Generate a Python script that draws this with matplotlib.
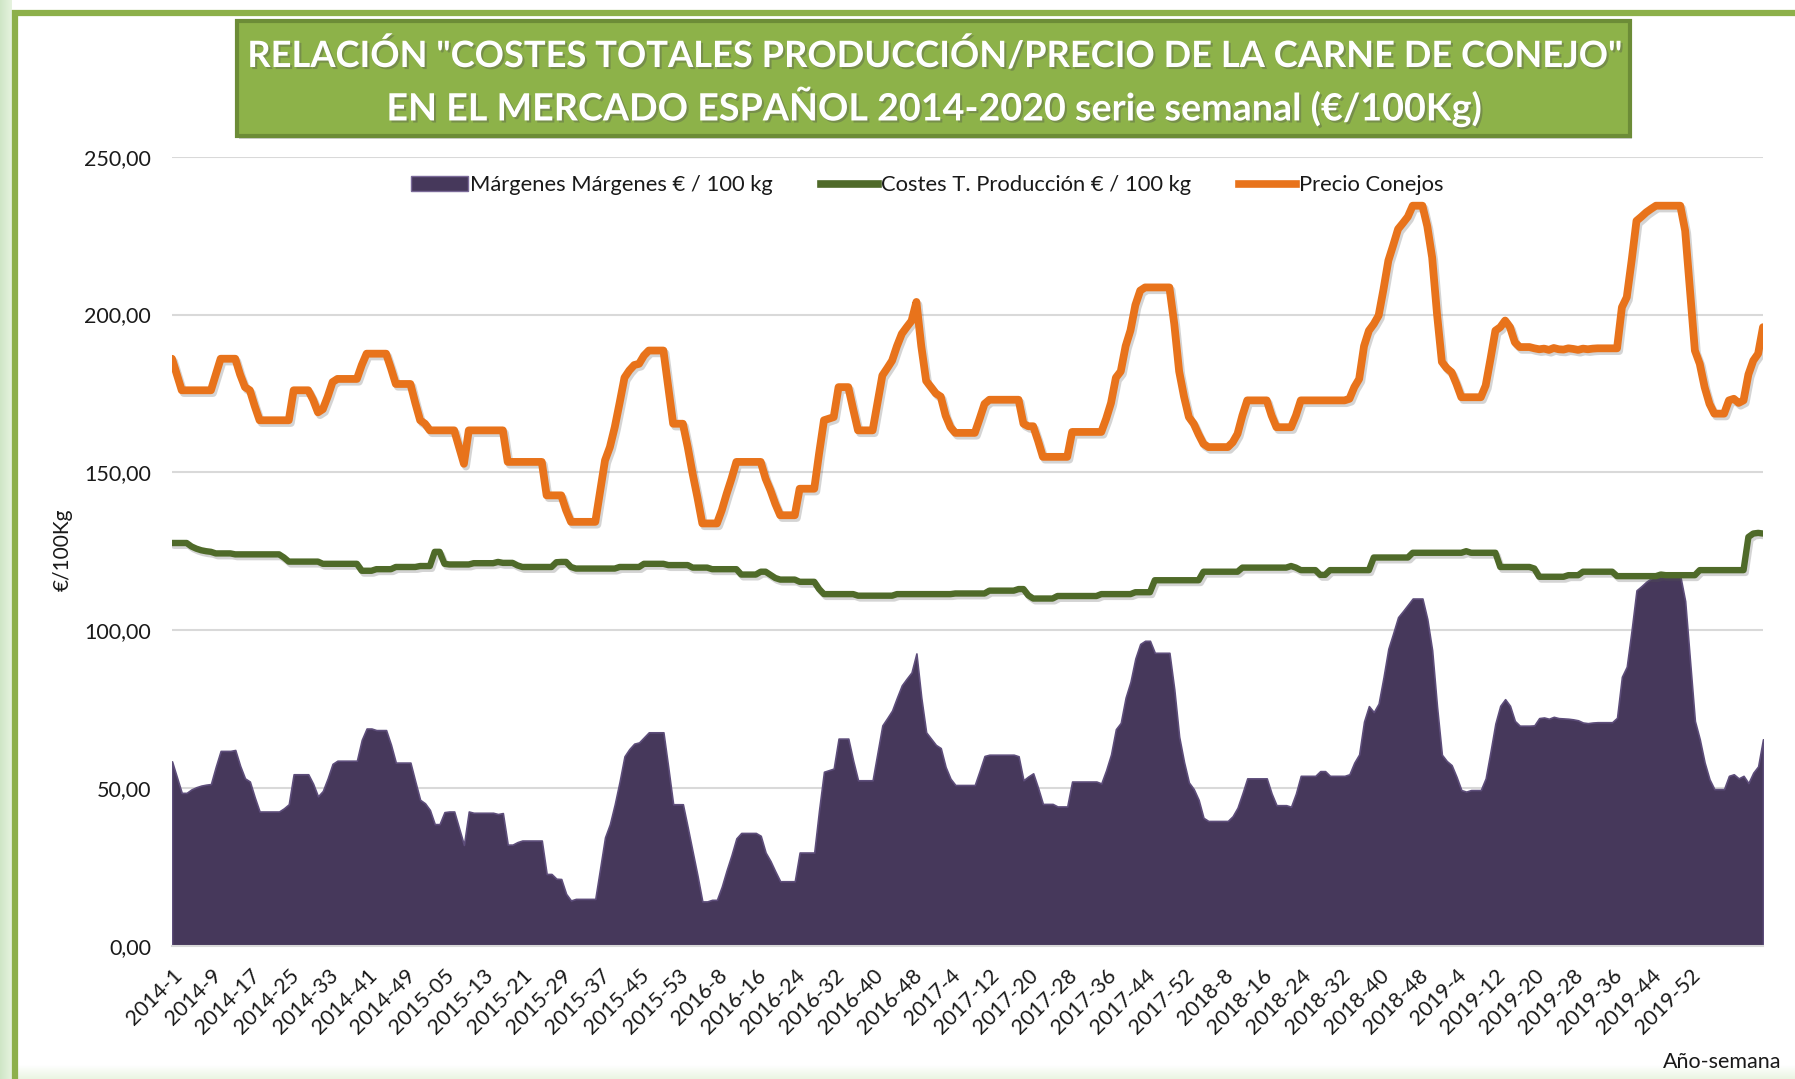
import matplotlib
matplotlib.use('Agg')
import matplotlib.pyplot as plt
import numpy as np
from matplotlib.patches import Rectangle, Patch
from matplotlib.lines import Line2D
import matplotlib.patheffects as pe

plt.rcParams['font.family'] = ['Lato', 'DejaVu Sans']

# ---------------- data (weekly, 2014-1 .. 2020-15) ----------------
price_2014 = [186, 181, 176, 176, 176, 176, 176, 176, 176, 181, 186, 186, 186, 186,
              181, 177, 176, 171, 166.5, 166.5, 166.5, 166.5, 166.5, 166.5, 166.5,
              176, 176, 176, 176, 173, 169, 170, 174, 178.6, 179.6, 179.6, 179.6,
              179.6, 179.6, 184, 187.6, 187.6, 187.6, 187.6, 187.6, 183, 178, 178,
              178, 178, 172, 166.5]
price_2015 = [165.4, 163.3, 163.3, 163.3, 163.3, 163.3, 163.3, 158, 152.7,
              163.3, 163.3, 163.3, 163.3, 163.3, 163.3, 163.3, 163.3,
              153.3, 153.3, 153.3, 153.3, 153.3, 153.3, 153.3, 153.3,
              142.7, 142.7, 142.7, 142.7, 138,
              134.3, 134.3, 134.3, 134.3, 134.3, 134.3,
              144, 153.8, 158, 164.3, 172, 180, 182.3, 184, 184.4, 187,
              188.6, 188.6, 188.6, 188.6, 177, 165.4, 165.4]
price_2016 = [165.4, 158, 149.6, 142, 133.8, 133.8, 133.8, 133.8, 138, 143.2, 148,
              153.3, 153.3, 153.3, 153.3, 153.3, 153.3, 148, 144.3, 140,
              136.4, 136.4, 136.4, 136.4, 144.8, 144.8, 144.8, 144.8,
              156, 166.5, 167, 167.5, 177, 177, 177, 170,
              163.3, 163.3, 163.3, 163.3,
              172, 180.7, 183, 185.4, 190, 193.9, 196, 198, 204, 190, 179, 177]
price_2017 = [175, 174, 168, 164.3, 162.5, 162.5, 162.5, 162.5, 162.5, 167, 171.7,
              173, 173, 173, 173, 173, 173, 173, 165.4, 164.6, 164.6, 160,
              154.9, 154.9, 154.9, 154.9, 154.9, 154.9,
              162.8, 162.8, 162.8, 162.8, 162.8, 162.8, 162.8,
              167, 172, 180, 182, 190, 195, 203, 207.6,
              208.6, 208.6, 208.6, 208.6, 208.6, 208.6, 197, 182, 174]
price_2018 = [167.5, 165.4, 162, 159, 158, 158, 158, 158, 158, 159.5, 162.2, 168,
              172.8, 172.8, 172.8, 172.8, 172.8, 168, 164.3, 164.3, 164.3, 164.3, 168,
              172.8, 172.8, 172.8, 172.8, 172.8, 172.8, 172.8, 172.8, 172.8, 172.8,
              173.3, 177, 179.6, 190, 194.9, 197, 199.7, 208, 217.1, 222, 227.1, 229,
              231, 234.5, 234.5, 234.5, 228, 218.1, 200.2]
price_2019 = [185, 183, 181.7, 178, 173.8, 173.8, 173.8, 173.8, 173.8,
              177.5, 186, 194.9, 196, 198.1, 196, 191.2, 189.7, 189.7, 189.7,
              189.3, 189.0, 189.2, 188.8, 189.4, 189.0, 188.9, 189.3, 189.1,
              188.8, 189.2, 189.0, 189.2, 189.3, 189.3, 189.3, 189.3, 189.3,
              202.3, 205.5, 217.1, 229.7, 231, 232.4, 233.5,
              234.5, 234.5, 234.5, 234.5, 234.5, 234.5, 226.6, 207.6]
price_2020 = [188.6, 184.4, 177, 171.7, 168.6, 168.6, 168.6, 172.8, 173.3, 172,
              172.8, 181, 185.4, 187.6, 196]

cost_2014 = [127.6, 127.6, 127.6, 127.6, 126.5, 125.8, 125.3, 125, 124.8,
             124.3, 124.3, 124.3, 124.3,
             124, 124, 124, 124, 124, 124, 124, 124, 124, 124, 123,
             121.7, 121.7, 121.7, 121.7, 121.7, 121.7, 121.7,
             121, 121, 121, 121, 121, 121, 121, 121,
             118.8, 118.8, 118.8, 119.3, 119.3, 119.3, 119.3,
             120, 120, 120, 120, 120, 120.3]
cost_2015 = [120.3, 120.3, 124.8, 124.8, 121, 120.8, 120.8, 120.8, 120.8, 120.8,
             121.2, 121.2, 121.2, 121.2, 121.2, 121.6, 121.3, 121.3, 121.3, 120.5,
             120, 120, 120, 120, 120, 120, 120, 121.5, 121.6, 121.6, 120,
             119.5, 119.5, 119.5, 119.5, 119.5, 119.5, 119.5, 119.5, 119.5,
             120, 120, 120, 120, 120, 121, 121, 121, 121, 121, 120.6, 120.6, 120.6]
cost_2016 = [120.6, 120.6, 119.8, 119.8, 119.8, 119.8,
             119.3, 119.3, 119.3, 119.3, 119.3, 119.3,
             117.6, 117.6, 117.6, 117.6, 118.5, 118.5, 117.5, 116.5,
             116, 116, 116, 116, 115.3, 115.3, 115.3, 115.3, 113,
             111.4, 111.4, 111.4, 111.4, 111.4, 111.4, 111.4,
             110.9, 110.9, 110.9, 110.9, 110.9, 110.9, 110.9, 110.9,
             111.4, 111.4, 111.4, 111.4, 111.4, 111.4, 111.4, 111.4]
cost_2017 = [111.4, 111.4, 111.4, 111.4, 111.6, 111.6, 111.6, 111.6, 111.6, 111.6, 111.6,
             112.5, 112.5, 112.5, 112.5, 112.5, 112.5, 113, 113, 111,
             110, 110, 110, 110, 110,
             110.8, 110.8, 110.8, 110.8, 110.8, 110.8, 110.8, 110.8, 110.8,
             111.4, 111.4, 111.4, 111.4, 111.4, 111.4, 111.4,
             112, 112, 112, 112, 115.8, 115.8, 115.8, 115.8, 115.8, 115.8, 115.8]
cost_2018 = [115.8, 115.8, 115.8, 118.5, 118.5, 118.5, 118.5, 118.5, 118.5, 118.5, 118.5,
             119.8, 119.8, 119.8, 119.8, 119.8, 119.8, 119.8, 119.8, 119.8, 119.8,
             120.3, 119.8, 119, 119, 119, 119, 117.5, 117.5,
             119, 119, 119, 119, 119, 119, 119, 119, 119,
             123, 123, 123, 123, 123, 123, 123, 123,
             124.5, 124.5, 124.5, 124.5, 124.5, 124.5]
cost_2019 = [124.5, 124.5, 124.5, 124.5, 124.5, 125, 124.5, 124.5, 124.5, 124.5, 124.5, 124.5,
             120, 120, 120, 120, 120, 120, 120, 119.5,
             116.9, 116.9, 116.9, 116.9, 116.9, 116.9, 117.4, 117.4, 117.4,
             118.5, 118.5, 118.5, 118.5, 118.5, 118.5, 118.5,
             117.1, 117.1, 117.1, 117.1, 117.1, 117.1, 117.1, 117.1, 117.1, 117.6,
             117.4, 117.4, 117.4, 117.4, 117.4, 117.4]
cost_2020 = [117.4, 119, 119, 119, 119, 119, 119, 119, 119, 119, 119,
             129.5, 130.6, 130.8, 130.6]

tick_labels = ['2014-1', '2014-9', '2014-17', '2014-25', '2014-33', '2014-41', '2014-49',
               '2015-05', '2015-13', '2015-21', '2015-29', '2015-37', '2015-45', '2015-53',
               '2016-8', '2016-16', '2016-24', '2016-32', '2016-40', '2016-48',
               '2017-4', '2017-12', '2017-20', '2017-28', '2017-36', '2017-44', '2017-52',
               '2018-8', '2018-16', '2018-24', '2018-32', '2018-40', '2018-48',
               '2019-4', '2019-12', '2019-20', '2019-28', '2019-36', '2019-44', '2019-52']
tick_step = 8

price = price_2014 + price_2015 + price_2016 + price_2017 + price_2018 + price_2019 + price_2020
cost = cost_2014 + cost_2015 + cost_2016 + cost_2017 + cost_2018 + cost_2019 + cost_2020
assert len(price) == len(cost), (len(price), len(cost))
margin = [p - c for p, c in zip(price, cost)]
n = len(price)
x = np.arange(n)

# ---------------- figure ----------------
W, H = 1795, 1079
fig = plt.figure(figsize=(W / 100, H / 100), dpi=100)
fig.patch.set_facecolor('white')

# background frame (slide-like)
bg = fig.add_axes([0, 0, 1, 1], zorder=-10)
bg.set_xlim(0, W)
bg.set_ylim(H, 0)
bg.axis('off')
grad = np.linspace(0, 1, 64).reshape(1, -1)
bg.imshow(grad, extent=(0, 12, H, 0), cmap=matplotlib.colors.LinearSegmentedColormap.from_list(
    'g', ['#cfe6c6', '#e6f3df']), aspect='auto')
bg.imshow(grad.T, extent=(12, W, H, H - 14), cmap=matplotlib.colors.LinearSegmentedColormap.from_list(
    'g2', ['#ffffff', '#eaf5e2']), aspect='auto')
bg.plot([14.5, 14.5], [10, H], color='#8db04a', lw=4.5, solid_capstyle='butt')
bg.plot([12, W], [13, 13], color='#8db04a', lw=4.5, solid_capstyle='butt')
bg.set_xlim(0, W)
bg.set_ylim(H, 0)

# title box
bg.add_patch(Rectangle((239, 24), 1393, 115, facecolor='#7a7a7a', edgecolor='none', alpha=0.35))
bg.add_patch(Rectangle((237, 21), 1393, 115, facecolor='#8db249', edgecolor='#6c8c37', lw=3))

t1 = fig.text(933 / W, 1 - 55 / H, 'RELACIÓN "COSTES TOTALES PRODUCCIÓN/PRECIO DE LA CARNE DE CONEJO"',
              ha='center', va='center', color='white', fontsize=28, fontweight='bold')
t2 = fig.text(933 / W, 1 - 106 / H, 'EN EL MERCADO ESPAÑOL 2014-2020 serie semanal (€/100Kg)',
              ha='center', va='center', color='white', fontsize=28, fontweight='bold')
for t in (t1, t2):
    t.set_path_effects([pe.withSimplePatchShadow(offset=(1.5, -1.5), alpha=0.35)])
r = fig.canvas.get_renderer()
for t, target in ((t1, 1376), (t2, 1096)):
    w = t.get_window_extent(r).width
    t.set_fontsize(t.get_fontsize() * target / w)

# ---------------- main axes ----------------
left, right = 172, 1763
top, bottom = 156.8, 945.6
ax = fig.add_axes([left / W, 1 - bottom / H, (right - left) / W, (bottom - top) / H])
ax.set_facecolor('none')
ax.set_xlim(0, n - 1)
ax.set_ylim(0, 250)

ax.fill_between(x, 0, margin, color='#46385b', edgecolor='#5d4d7a', lw=1.2, zorder=2)

shadow = [pe.SimpleLineShadow(offset=(1.5, -2), alpha=0.25, shadow_color='#555555'), pe.Normal()]
ax.plot(x, cost, color='#4f6a29', lw=4.6, zorder=3, solid_joinstyle='round',
        solid_capstyle='round', path_effects=shadow)
ax.plot(x, price, color='#e8731b', lw=5.6, zorder=4, solid_joinstyle='round',
        solid_capstyle='round', path_effects=shadow)

yt = np.arange(0, 251, 50)
ax.set_yticks(yt)
ax.set_yticklabels([f'{v:.2f}'.replace('.', ',') for v in yt])
ax.yaxis.grid(True, color='#d9d9d9', lw=1.5)
ax.set_axisbelow(True)
for s in ('top', 'right', 'left'):
    ax.spines[s].set_visible(False)
ax.spines['bottom'].set_color('#d9d9d9')
ax.spines['bottom'].set_linewidth(1.5)

ticks = np.arange(0, len(tick_labels) * tick_step, tick_step)
ax.set_xticks(ticks)
ax.set_xticklabels(tick_labels, rotation=45, ha='right', va='top', rotation_mode='anchor')
ax.tick_params(axis='x', length=0, pad=14, labelsize=15.5, labelcolor='#1a1a1a')
ax.tick_params(axis='y', length=0, pad=15, labelsize=15.5, labelcolor='#1a1a1a')

handles = [Patch(facecolor='#46385b', edgecolor='#7a6a98', lw=1),
           Line2D([], [], color='#4f6a29', lw=5.5),
           Line2D([], [], color='#e8731b', lw=5.5)]
labels = ['Márgenes Márgenes € / 100 kg', 'Costes T. Producción € / 100 kg', 'Precio Conejos']
ax.legend(handles, labels, ncol=3, loc='center', bbox_to_anchor=(0.4746, 0.964),
          frameon=False, fontsize=15.8, handlelength=2.6, handletextpad=0.12,
          columnspacing=2.2, labelcolor='#1a1a1a')

fig.text(63 / W, 1 - 550 / H, '€/100Kg', rotation=90, ha='center', va='center',
         fontsize=15, color='#1a1a1a')
fig.text(1781 / W, 1 - 1062 / H, 'Año-semana', ha='right', va='center',
         fontsize=15.5, color='#1a1a1a')

fig.savefig('out.png', dpi=100, facecolor=fig.get_facecolor())
